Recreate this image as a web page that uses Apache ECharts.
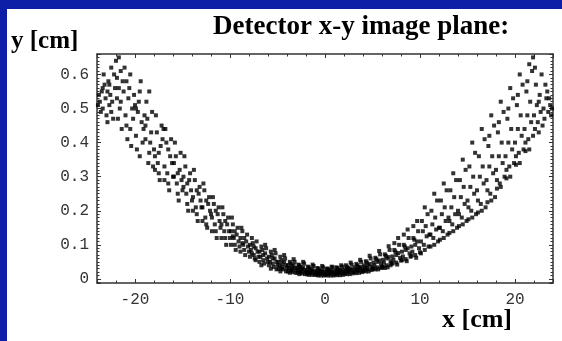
<!DOCTYPE html>
<html>
<head>
<meta charset="utf-8">
<script src="https://cdn.jsdelivr.net/npm/echarts@6/dist/echarts.min.js"></script>
<style>html,body{margin:0;padding:0;background:#0c1fa6;}#c{width:562px;height:341px;}</style>
</head>
<body>
<div id="c"></div>
<script>
// Scatter points: [x (cm), y (cm)]
const leftArm = [
[-23.7,0.52],[-23.5,0.55],[-23.4,0.50],[-23.8,0.54],[-23.2,0.57],[-23.6,0.49],[-23.1,0.53],[-23.3,0.60],[-23.9,0.51],[-23.4,0.56],[-23.0,0.48],
[-22.9,0.55],[-22.7,0.51],[-22.5,0.62],[-22.8,0.58],[-22.3,0.47],[-22.6,0.54],[-22.2,0.60],[-22.4,0.52],[-22.1,0.56],[-22.9,0.46],[-22.5,0.49],[-22.0,0.64],[-22.7,0.57],
[-21.9,0.53],[-21.7,0.65],[-21.5,0.61],[-21.8,0.47],[-21.3,0.58],[-21.6,0.50],[-21.2,0.55],[-21.4,0.44],[-21.1,0.62],[-21.9,0.59],[-21.5,0.52],[-21.0,0.48],[-21.7,0.56],
[-20.9,0.45],[-20.7,0.53],[-20.5,0.60],[-20.8,0.41],[-20.3,0.50],[-20.6,0.56],[-20.2,0.47],[-20.4,0.39],[-20.1,0.54],[-20.9,0.58],[-20.5,0.44],[-20.0,0.51],
[-19.9,0.42],[-19.7,0.49],[-19.5,0.55],[-19.8,0.38],[-19.3,0.46],[-19.6,0.52],[-19.2,0.40],[-19.4,0.58],[-19.1,0.44],[-19.9,0.50],[-19.5,0.36],[-19.0,0.48],
[-18.9,0.41],[-18.7,0.47],[-18.5,0.37],[-18.8,0.52],[-18.3,0.43],[-18.6,0.34],[-18.2,0.49],[-18.4,0.40],[-18.1,0.33],[-18.9,0.45],[-18.5,0.55],[-18.0,0.38],
[-17.9,0.36],[-17.7,0.43],[-17.5,0.31],[-17.8,0.48],[-17.3,0.39],[-17.6,0.34],[-17.2,0.45],[-17.4,0.29],[-17.1,0.41],[-17.9,0.32],[-17.5,0.37],[-17.0,0.44],
[-16.9,0.33],[-16.7,0.40],[-16.5,0.28],[-16.8,0.44],[-16.3,0.36],[-16.6,0.31],[-16.2,0.41],[-16.4,0.26],[-16.1,0.34],[-16.9,0.29],[-16.5,0.38],[-16.0,0.30],
[-15.9,0.30],[-15.7,0.36],[-15.5,0.25],[-15.8,0.40],[-15.3,0.32],[-15.6,0.28],[-15.2,0.37],[-15.4,0.23],[-15.1,0.29],[-15.9,0.34],[-15.5,0.31],[-15.0,0.26],
[-14.9,0.27],[-14.7,0.33],[-14.5,0.22],[-14.8,0.36],[-14.3,0.29],[-14.6,0.25],[-14.2,0.31],[-14.4,0.20],[-14.1,0.26],[-14.9,0.30],[-14.5,0.28],[-14.0,0.23],
[-13.9,0.24],[-13.7,0.29],[-13.5,0.19],[-13.8,0.32],[-13.3,0.25],[-13.6,0.21],[-13.2,0.27],[-13.4,0.17],[-13.1,0.23],[-13.9,0.20],[-13.5,0.26],[-13.0,0.21],
[-12.9,0.21],[-12.7,0.26],[-12.5,0.16],[-12.8,0.28],[-12.3,0.22],[-12.6,0.18],[-12.2,0.24],[-12.4,0.15],[-12.1,0.20],[-12.9,0.17],[-12.5,0.23],[-12.0,0.19],
[-11.9,0.18],[-11.7,0.22],[-11.5,0.14],[-11.8,0.24],[-11.3,0.19],[-11.6,0.16],[-11.2,0.21],[-11.4,0.12],[-11.1,0.17],[-11.9,0.14],[-11.5,0.20],[-11.0,0.15],
[-10.9,0.16],[-10.7,0.19],[-10.5,0.12],[-10.8,0.21],[-10.3,0.16],[-10.6,0.14],[-10.2,0.18],[-10.4,0.10],[-10.1,0.14],[-10.9,0.12],[-10.5,0.17],[-10.0,0.12]
];
const trough = [
[-9.9,0.14],[-9.7,0.16],[-9.5,0.10],[-9.8,0.18],[-9.3,0.13],[-9.6,0.12],[-9.2,0.15],[-9.4,0.085],[-9.1,0.11],[-9.9,0.10],[-9.5,0.14],[-9.0,0.095],[-9.7,0.125],
[-8.9,0.12],[-8.7,0.14],[-8.5,0.085],[-8.8,0.15],[-8.3,0.11],[-8.6,0.10],[-8.2,0.13],[-8.4,0.07],[-8.1,0.095],[-8.9,0.08],[-8.5,0.12],[-8.0,0.08],[-8.7,0.105],
[-7.9,0.10],[-7.7,0.12],[-7.5,0.07],[-7.8,0.085],[-7.3,0.09],[-7.6,0.105],[-7.2,0.11],[-7.4,0.06],[-7.1,0.08],[-7.9,0.065],[-7.5,0.095],[-7.0,0.065],[-7.7,0.075],[-7.3,0.055],
[-6.9,0.08],[-6.7,0.095],[-6.5,0.055],[-6.8,0.065],[-6.3,0.075],[-6.6,0.085],[-6.2,0.09],[-6.4,0.045],[-6.1,0.06],[-6.9,0.05],[-6.5,0.07],[-6.0,0.05],[-6.7,0.04],[-6.3,0.10],
[-5.9,0.065],[-5.7,0.08],[-5.5,0.045],[-5.8,0.05],[-5.3,0.06],[-5.6,0.07],[-5.2,0.075],[-5.4,0.035],[-5.1,0.05],[-5.9,0.04],[-5.5,0.06],[-5.0,0.04],[-5.7,0.03],[-5.3,0.085],[-5.1,0.028],
[-4.9,0.05],[-4.7,0.065],[-4.5,0.035],[-4.8,0.04],[-4.3,0.05],[-4.6,0.055],[-4.2,0.06],[-4.4,0.028],[-4.1,0.04],[-4.9,0.03],[-4.5,0.045],[-4.0,0.032],[-4.7,0.022],[-4.3,0.07],[-4.1,0.022],[-4.6,0.03],
[-3.9,0.04],[-3.7,0.05],[-3.5,0.028],[-3.8,0.032],[-3.3,0.04],[-3.6,0.045],[-3.2,0.05],[-3.4,0.02],[-3.1,0.032],[-3.9,0.022],[-3.5,0.038],[-3.0,0.025],[-3.7,0.018],[-3.3,0.058],[-3.1,0.018],[-3.6,0.024],[-3.4,0.03],
[-2.9,0.032],[-2.7,0.04],[-2.5,0.022],[-2.8,0.026],[-2.3,0.034],[-2.6,0.036],[-2.2,0.045],[-2.4,0.016],[-2.1,0.026],[-2.9,0.018],[-2.5,0.03],[-2.0,0.02],[-2.7,0.014],[-2.3,0.05],[-2.1,0.014],[-2.6,0.02],[-2.4,0.028],[-2.8,0.042],
[-1.9,0.026],[-1.7,0.034],[-1.5,0.018],[-1.8,0.02],[-1.3,0.028],[-1.6,0.03],[-1.2,0.038],[-1.4,0.012],[-1.1,0.022],[-1.9,0.014],[-1.5,0.025],[-1.0,0.016],[-1.7,0.012],[-1.3,0.042],[-1.1,0.012],[-1.6,0.018],[-1.4,0.022],[-1.8,0.036],
[-0.9,0.022],[-0.7,0.03],[-0.5,0.015],[-0.8,0.018],[-0.3,0.024],[-0.6,0.026],[-0.2,0.034],[-0.4,0.01],[-0.1,0.02],[-0.9,0.012],[-0.5,0.022],[0.0,0.014],[-0.7,0.01],[-0.3,0.038],[-0.1,0.01],[-0.6,0.016],[-0.4,0.02],[-0.8,0.032],
[0.1,0.022],[0.3,0.03],[0.5,0.015],[0.2,0.018],[0.7,0.024],[0.4,0.026],[0.8,0.034],[0.6,0.01],[0.9,0.02],[0.1,0.012],[0.5,0.022],[1.0,0.014],[0.3,0.01],[0.7,0.036],[0.9,0.01],[0.4,0.016],[0.6,0.02],[0.2,0.03],
[1.1,0.024],[1.3,0.032],[1.5,0.016],[1.2,0.02],[1.7,0.026],[1.4,0.028],[1.8,0.036],[1.6,0.011],[1.9,0.022],[1.1,0.013],[1.5,0.024],[2.0,0.016],[1.3,0.011],[1.7,0.04],[1.9,0.012],[1.4,0.018],[1.6,0.022],[1.2,0.034],
[2.1,0.028],[2.3,0.036],[2.5,0.02],[2.2,0.024],[2.7,0.03],[2.4,0.032],[2.8,0.042],[2.6,0.014],[2.9,0.026],[2.1,0.016],[2.5,0.028],[3.0,0.02],[2.3,0.014],[2.7,0.048],[2.9,0.016],[2.4,0.022],[2.6,0.026],[2.2,0.04],
[3.1,0.034],[3.3,0.044],[3.5,0.024],[3.2,0.028],[3.7,0.036],[3.4,0.04],[3.8,0.05],[3.6,0.018],[3.9,0.03],[3.1,0.02],[3.5,0.034],[4.0,0.024],[3.3,0.017],[3.7,0.056],[3.9,0.02],[3.4,0.026],[3.6,0.03],
[4.1,0.04],[4.3,0.052],[4.5,0.028],[4.2,0.034],[4.7,0.044],[4.4,0.048],[4.8,0.06],[4.6,0.022],[4.9,0.036],[4.1,0.025],[4.5,0.04],[5.0,0.03],[4.3,0.022],[4.7,0.068],[4.9,0.026],[4.4,0.032],
[5.1,0.048],[5.3,0.062],[5.5,0.034],[5.2,0.04],[5.7,0.054],[5.4,0.058],[5.8,0.072],[5.6,0.028],[5.9,0.044],[5.1,0.03],[5.5,0.05],[6.0,0.036],[5.3,0.028],[5.7,0.082],[5.9,0.032],
[6.1,0.056],[6.3,0.072],[6.5,0.04],[6.2,0.048],[6.7,0.064],[6.4,0.068],[6.8,0.085],[6.6,0.034],[6.9,0.052],[6.1,0.036],[6.5,0.06],[7.0,0.045],[6.3,0.032],[6.7,0.096],[6.9,0.04],
[7.1,0.066],[7.3,0.085],[7.5,0.048],[7.2,0.056],[7.7,0.076],[7.4,0.08],[7.8,0.10],[7.6,0.042],[7.9,0.062],[7.1,0.045],[7.5,0.07],[8.0,0.054],[7.3,0.105],[7.7,0.12],
[8.1,0.08],[8.3,0.10],[8.5,0.058],[8.2,0.066],[8.7,0.09],[8.4,0.095],[8.8,0.12],[8.6,0.052],[8.9,0.075],[8.1,0.055],[8.5,0.085],[9.0,0.065],[8.3,0.13],[8.7,0.145],
[9.1,0.095],[9.3,0.12],[9.5,0.07],[9.2,0.08],[9.7,0.11],[9.4,0.115],[9.8,0.14],[9.6,0.062],[9.9,0.09],[9.1,0.068],[9.5,0.10],[10.0,0.078],[9.3,0.155],[9.7,0.17]
];
const rightArm = [
[10.1,0.11],[10.3,0.14],[10.5,0.085],[10.2,0.17],[10.7,0.125],[10.4,0.10],[10.8,0.19],[10.6,0.155],[10.9,0.095],[10.1,0.075],[10.5,0.21],[11.0,0.13],
[11.1,0.13],[11.3,0.16],[11.5,0.10],[11.2,0.20],[11.7,0.145],[11.4,0.12],[11.8,0.23],[11.6,0.18],[11.9,0.11],[11.1,0.095],[11.5,0.25],[12.0,0.15],
[12.1,0.15],[12.3,0.19],[12.5,0.12],[12.2,0.23],[12.7,0.17],[12.4,0.14],[12.8,0.26],[12.6,0.21],[12.9,0.13],[12.1,0.115],[12.5,0.28],[13.0,0.18],
[13.1,0.17],[13.3,0.21],[13.5,0.14],[13.2,0.26],[13.7,0.19],[13.4,0.16],[13.8,0.29],[13.6,0.24],[13.9,0.15],[13.1,0.135],[13.5,0.31],[14.0,0.20],
[14.1,0.19],[14.3,0.24],[14.5,0.16],[14.2,0.29],[14.7,0.22],[14.4,0.18],[14.8,0.32],[14.6,0.27],[14.9,0.17],[14.1,0.155],[14.5,0.35],[15.0,0.23],
[15.1,0.21],[15.3,0.27],[15.5,0.18],[15.2,0.33],[15.7,0.25],[15.4,0.20],[15.8,0.37],[15.6,0.30],[15.9,0.19],[15.1,0.175],[15.5,0.40],[16.0,0.26],
[16.1,0.23],[16.3,0.30],[16.5,0.20],[16.2,0.36],[16.7,0.28],[16.4,0.22],[16.8,0.41],[16.6,0.33],[16.9,0.21],[16.1,0.195],[16.5,0.44],[17.0,0.29],
[17.1,0.26],[17.3,0.33],[17.5,0.23],[17.2,0.39],[17.7,0.31],[17.4,0.25],[17.8,0.45],[17.6,0.36],[17.9,0.24],[17.1,0.225],[17.5,0.48],[18.0,0.32],[17.3,0.42],
[18.1,0.29],[18.3,0.36],[18.5,0.27],[18.2,0.43],[18.7,0.34],[18.4,0.28],[18.8,0.49],[18.6,0.40],[18.9,0.30],[18.1,0.265],[18.5,0.52],[19.0,0.36],[18.3,0.46],
[19.1,0.32],[19.3,0.40],[19.5,0.30],[19.2,0.47],[19.7,0.38],[19.4,0.33],[19.8,0.53],[19.6,0.44],[19.9,0.34],[19.1,0.295],[19.5,0.56],[20.0,0.40],[19.3,0.50],
[20.1,0.36],[20.3,0.44],[20.5,0.34],[20.2,0.51],[20.7,0.42],[20.4,0.37],[20.8,0.57],[20.6,0.48],[20.9,0.38],[20.1,0.335],[20.5,0.60],[21.0,0.44],[20.3,0.54],
[21.1,0.40],[21.3,0.48],[21.5,0.38],[21.2,0.55],[21.7,0.46],[21.4,0.41],[21.8,0.61],[21.6,0.52],[21.9,0.42],[21.1,0.375],[21.5,0.63],[22.0,0.48],[21.9,0.65],[21.3,0.58],
[22.1,0.44],[22.3,0.51],[22.5,0.43],[22.2,0.57],[22.7,0.49],[22.4,0.46],[22.8,0.60],[22.6,0.54],[22.9,0.45],[22.1,0.62],[22.5,0.52],[23.0,0.50],
[23.1,0.47],[23.3,0.53],[23.5,0.49],[23.2,0.57],[23.7,0.51],[23.4,0.55],[23.8,0.48],[23.6,0.53],[23.9,0.50]
];
const xRange = [-24, 24];
const yRange = [-0.012, 0.66];

const chart = echarts.init(document.getElementById('c'), null, {renderer: 'canvas'});
const lineC = '#333';
const mono = '"Liberation Mono", "DejaVu Sans Mono", monospace';
const serif = '"Liberation Serif", "DejaVu Serif", serif';
function xAx(pos, labels) {
  return {
    type: 'value', position: pos, min: xRange[0], max: xRange[1], splitNumber: 5,
    axisLine: {show: true, onZero: false, lineStyle: {color: lineC, width: 1.5}},
    axisTick: {show: true, inside: true, length: 4, lineStyle: {color: lineC, width: 1}},
    minorTick: {show: true, splitNumber: 5, length: 2.5, lineStyle: {color: lineC, width: 1}},
    splitLine: {show: false},
    axisLabel: {show: labels, fontFamily: mono, fontSize: 16, color: '#333', margin: 9, showMinLabel: false, showMaxLabel: false}
  };
}
function yAx(pos, labels) {
  return {
    type: 'value', position: pos, min: yRange[0], max: yRange[1], splitNumber: 7,
    axisLine: {show: true, onZero: false, lineStyle: {color: lineC, width: 1.5}},
    axisTick: {show: true, inside: true, length: 4, lineStyle: {color: lineC, width: 1}},
    minorTick: {show: true, splitNumber: 10, length: 2.5, lineStyle: {color: lineC, width: 1}},
    splitLine: {show: false},
    axisLabel: {show: labels, fontFamily: mono, fontSize: 16, color: '#333', margin: 8, showMinLabel: false, showMaxLabel: false}
  };
}
const dotStyle = {type: 'scatter', symbol: 'rect', symbolSize: 4, itemStyle: {color: '#000'}, silent: true, xAxisIndex: 0, yAxisIndex: 0};
chart.setOption({
  animation: false,
  backgroundColor: '#0c1fa6',
  grid: {left: 97, top: 54, width: 456, height: 229, containLabel: false},
  xAxis: [xAx('bottom', true), xAx('top', false)],
  yAxis: [yAx('left', true), yAx('right', false)],
  graphic: [
    {type: 'rect', z: -100, shape: {x: 7, y: 9, width: 555, height: 332}, style: {fill: '#fff'}},
    {type: 'text', x: 213, y: 27, style: {text: 'Detector x-y image plane:', font: 'bold 27px ' + serif, fill: '#000', verticalAlign: 'middle'}},
    {type: 'text', x: 11, y: 42, style: {text: 'y [cm]', font: 'bold 25px ' + serif, fill: '#000', verticalAlign: 'middle'}},
    {type: 'text', x: 442, y: 320, style: {text: 'x [cm]', font: 'bold 26px ' + serif, fill: '#000', verticalAlign: 'middle'}}
  ],
  series: [
    Object.assign({name: 'left', data: leftArm}, dotStyle),
    Object.assign({name: 'trough', data: trough}, dotStyle),
    Object.assign({name: 'right', data: rightArm}, dotStyle)
  ]
});
</script>
</body>
</html>
